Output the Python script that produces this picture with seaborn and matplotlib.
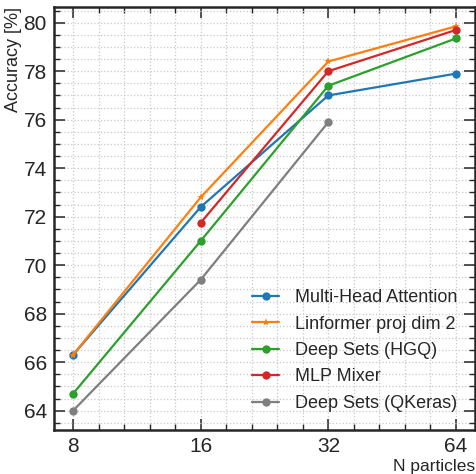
import numpy as np
import pandas as pd
import matplotlib
matplotlib.use("Agg")
import matplotlib.pyplot as plt
import matplotlib.ticker as mticker
import seaborn as sns

n_particles = [8, 16, 32, 64]
models = [
    "Multi-Head Attention",
    "Linformer proj dim 2",
    "Deep Sets (HGQ)",
    "MLP Mixer",
    "Deep Sets (QKeras)",
]
mha = [66.3, 72.4, 77.0, 77.9]
linformer = [66.3, 72.8, 78.4, 79.85]
ds_hgq = [64.7, 71.0, 77.4, 79.35]
mlp_mixer = [np.nan, 71.75, 78.0, 79.7]
ds_qkeras = [64.0, 69.4, 75.9, np.nan]
colors = ["#1f77b4", "#ff7f0e", "#2ca02c", "#d62728", "#7f7f7f"]
markers = ["o", "*", "o", "o", "o"]

rows = []
for name, vals in zip(models, [mha, linformer, ds_hgq, mlp_mixer, ds_qkeras]):
    for n, v in zip(n_particles, vals):
        rows.append({"N": n, "acc": v, "model": name})
df = pd.DataFrame(rows).dropna()

sns.set_style("ticks")
plt.rcParams["font.family"] = ["Liberation Sans", "DejaVu Sans"]
plt.rcParams["font.size"] = 11.5

fig = plt.figure(figsize=(4.77, 4.74), dpi=100)
ax = fig.add_axes([0.113, 0.093, 0.883, 0.892])
ax.set_xscale("log", base=2)

sns.lineplot(
    data=df, x="N", y="acc", hue="model", style="model",
    hue_order=models, style_order=models,
    palette=colors, markers=dict(zip(models, markers)), dashes=False,
    markersize=6, markeredgewidth=0, linewidth=1.6, ax=ax,
)

ax.xaxis.set_major_locator(mticker.FixedLocator(n_particles))
ax.xaxis.set_major_formatter(mticker.FixedFormatter([str(n) for n in n_particles]))
ax.xaxis.set_minor_locator(mticker.LogLocator(base=2, subs=2 ** (np.arange(1, 5) / 5)))
ax.xaxis.set_minor_formatter(mticker.NullFormatter())
ax.yaxis.set_major_locator(mticker.MultipleLocator(2))
ax.yaxis.set_minor_locator(mticker.MultipleLocator(0.5))

ax.tick_params(which="both", direction="in", top=True, right=True, labelsize=15)
ax.tick_params(which="major", length=8, width=1.1, pad=5)
ax.tick_params(which="minor", length=4, width=1)
for s in ax.spines.values():
    s.set_linewidth(1.8)

ax.grid(which="both", linestyle=":", color="#c8c8c8", linewidth=0.9)
ax.set_axisbelow(True)

ax.set_xlabel("N particles", loc="right", fontsize=12.5, labelpad=2)
ax.set_ylabel("Accuracy [%]", loc="top", fontsize=13, labelpad=1)

ax.legend(loc="lower right", frameon=False, fontsize=13, handlelength=1.5,
          borderaxespad=0.6, labelspacing=0.52, handletextpad=0.85)

fig.savefig("out.png", dpi=100)
